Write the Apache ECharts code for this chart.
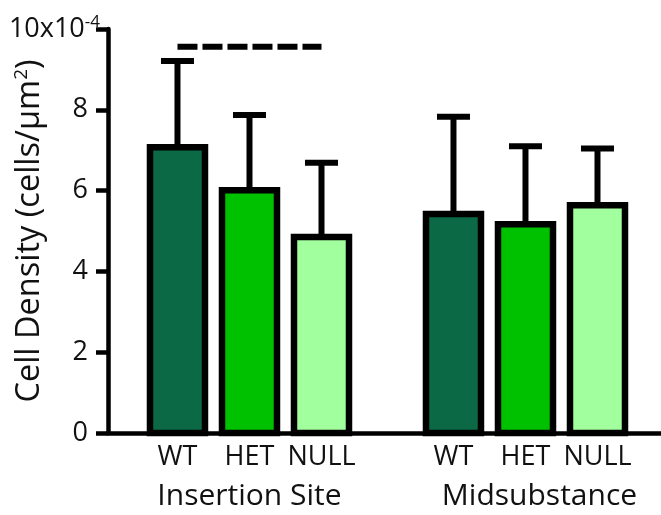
<!DOCTYPE html>
<html>
<head>
<meta charset="utf-8">
<script src="https://cdn.jsdelivr.net/npm/echarts@6/dist/echarts.min.js"></script>
<style>
  html, body { margin: 0; padding: 0; background: #fff; }
  #chart { width: 661px; height: 515px; }
</style>
</head>
<body>
<div id="chart"></div>
<script>
// ---- data ----
const genotypes = ['WT', 'HET', 'NULL'];
const groups = ['Insertion Site', 'Midsubstance'];
const insertionMean = [7.07, 6.01, 4.85];
const insertionSD = [2.14, 1.86, 1.84];
const midMean = [5.42, 5.17, 5.64];
const midSD = [2.41, 1.93, 1.40];
const yTicks = [0, 2, 4, 6, 8, 10];
const sigLevel = 9.56; // dashed comparison line over Insertion Site
const colors = ['#0b6a45', '#00c100', '#a2ff9e'];

// ---- layout ----
const groupStep = 3.833;
const FONT = 'Open Sans';
const pos = (g, i) => g * groupStep + i;
const means = [insertionMean, midMean];
const sds = [insertionSD, midSD];

const barData = [];
const errData = [];
const catLabelData = [];
groups.forEach((gName, g) => {
  genotypes.forEach((gt, i) => {
    barData.push([pos(g, i), means[g][i], i]);
    errData.push([pos(g, i), means[g][i], means[g][i] + sds[g][i]]);
    catLabelData.push([pos(g, i), 0, gt]);
  });
});
const groupLabelData = groups.map((gName, g) => [pos(g, 1), 0, gName]);

const chart = echarts.init(document.getElementById('chart'), null, { renderer: 'canvas' });
chart.setOption({
  animation: false,
  backgroundColor: '#fff',
  grid: { left: 108, right: 0, top: 29, bottom: 82, containLabel: false, outerBoundsMode: 'none' },
  xAxis: {
    type: 'value',
    min: -0.965,
    max: 6.715,
    splitLine: { show: false },
    axisTick: { show: false },
    axisLabel: { show: false },
    axisLine: { show: true, onZero: true, lineStyle: { color: '#000', width: 4.5 } }
  },
  yAxis: {
    type: 'value',
    min: yTicks[0],
    max: yTicks[yTicks.length - 1],
    interval: 2,
    splitLine: { show: false },
    axisLine: { show: true, onZero: false, lineStyle: { color: '#000', width: 4.5 } },
    axisTick: { show: true, length: 12, lineStyle: { color: '#000', width: 4.5 } },
    axisLabel: {
      margin: 8,
      formatter: v => v === 10 ? '{t|10x10}{s|-4}' : '{b|' + v + '}',
      rich: {
        b: { fontFamily: FONT, fontSize: 27, color: '#111', padding: [0, 12, 0, 0] },
        t: { fontFamily: FONT, fontSize: 27, color: '#111' },
        s: { fontFamily: FONT, fontSize: 17, color: '#111', verticalAlign: 'top', padding: [0, 0, 14, 0] }
      }
    },
    name: '{a|Cell Density (cells/µm}{s|2}{a|)}',
    nameLocation: 'middle',
    nameGap: 61,
    nameMoveOverlap: false,
    nameRotate: 90,
    nameTextStyle: {
      rich: {
        a: { fontFamily: FONT, fontSize: 32.5, color: '#111' },
        s: { fontFamily: FONT, fontSize: 19, color: '#111', verticalAlign: 'top', padding: [0, 0, 16, 0] }
      }
    }
  },
  series: [
    {
      type: 'custom',
      data: barData,
      z: 2,
      renderItem: (params, api) => {
        const x = api.value(0);
        const p0 = api.coord([x, 0]);
        const p1 = api.coord([x, api.value(1)]);
        const w = 55;
        return {
          type: 'rect',
          shape: { x: p0[0] - w / 2, y: p1[1], width: w, height: p0[1] - p1[1] },
          style: { fill: colors[api.value(2)], stroke: '#000', lineWidth: 6.5 }
        };
      }
    },
    {
      type: 'custom',
      data: errData,
      z: 1,
      renderItem: (params, api) => {
        const x = api.value(0);
        const base = api.coord([x, api.value(1)]);
        const top = api.coord([x, api.value(2)]);
        const half = 16.5;
        return {
          type: 'group',
          children: [
            { type: 'line', shape: { x1: base[0], y1: base[1], x2: top[0], y2: top[1] }, style: { stroke: '#000', lineWidth: 6 } },
            { type: 'line', shape: { x1: top[0] - half, y1: top[1], x2: top[0] + half, y2: top[1] }, style: { stroke: '#000', lineWidth: 6 } }
          ]
        };
      }
    },
    {
      type: 'line',
      data: [[pos(0, 0), sigLevel], [pos(0, 2), sigLevel]],
      symbol: 'none',
      lineStyle: { color: '#000', width: 6, type: [20, 5], cap: 'butt' },
      z: 3
    },
    {
      type: 'custom',
      data: catLabelData,
      clip: false,
      renderItem: (params, api) => {
        const p = api.coord([api.value(0), 0]);
        return {
          type: 'text',
          x: p[0], y: p[1] + 24,
          style: { text: catLabelData[params.dataIndex][2], fontFamily: FONT, fontSize: 27, fill: '#111', align: 'center', verticalAlign: 'middle' }
        };
      }
    },
    {
      type: 'custom',
      data: groupLabelData,
      clip: false,
      renderItem: (params, api) => {
        const p = api.coord([api.value(0), 0]);
        return {
          type: 'text',
          x: p[0] + (params.dataIndex === 1 ? 14 : 0), y: p[1] + 63,
          style: { text: groupLabelData[params.dataIndex][2], fontFamily: FONT, fontSize: 30, fill: '#111', align: 'center', verticalAlign: 'middle' }
        };
      }
    }
  ]
});
</script>
</body>
</html>
